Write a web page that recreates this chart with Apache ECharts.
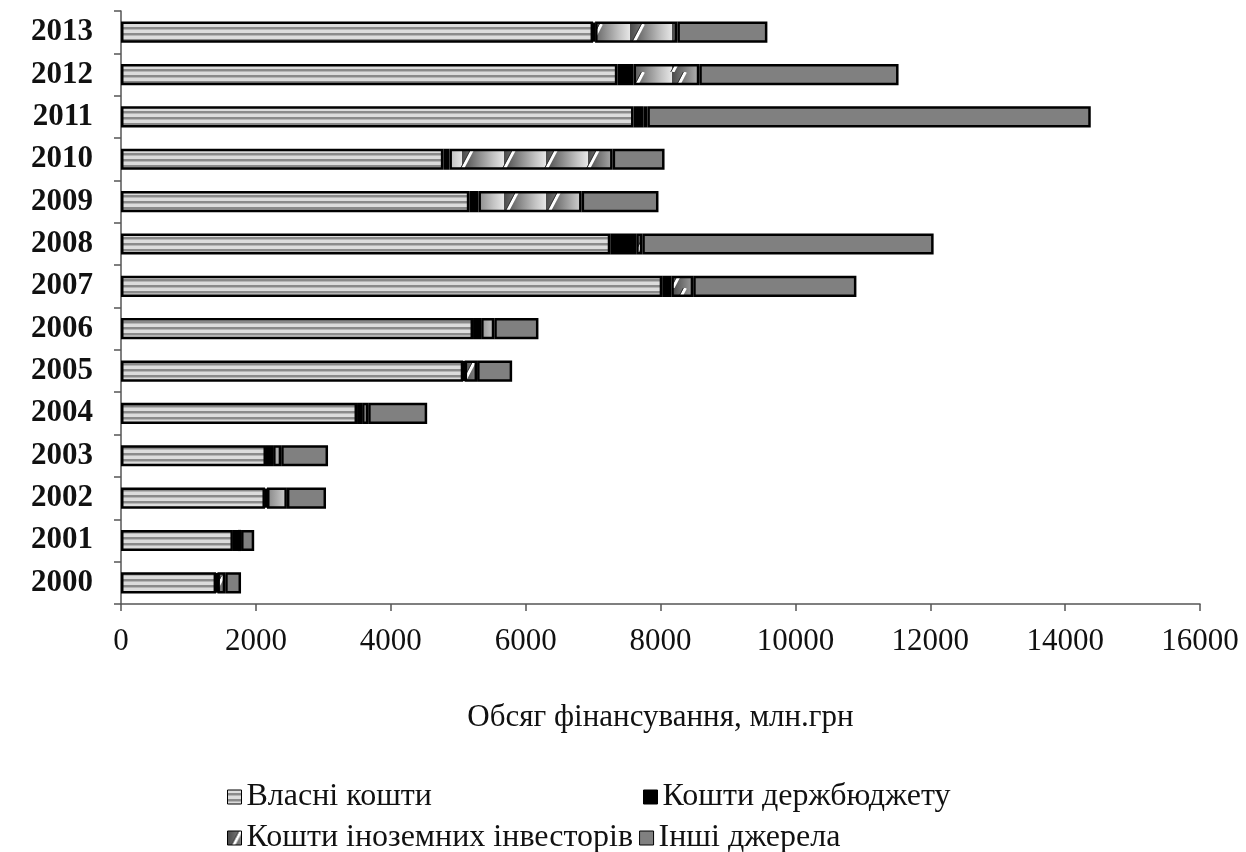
<!DOCTYPE html>
<html>
<head>
<meta charset="utf-8">
<script src="https://cdn.jsdelivr.net/npm/echarts@6/dist/echarts.min.js"></script>
<style>html,body{margin:0;padding:0;background:#fff}#c{width:1246px;height:852px}</style>
</head>
<body>
<div id="c"></div>
<script>
const years = ['2000','2001','2002','2003','2004','2005','2006','2007','2008','2009','2010','2011','2012','2013'];
const ownFunds     = [1410,1660,2135,2150,3500,5075,5220,8025,7255,5165,4780,7600,7360,7000];
const stateBudget  = [20,  75,  30,  105, 75,  20,  120, 135, 385, 135, 90,  145, 240, 30];
const foreignInv   = [115, 45,  295, 120, 90,  185, 195, 325, 90,  1530,2420,60,  975, 1220];
const otherSources = [235, 195, 580, 695, 875, 520, 655, 2420,4320,1140,770, 6575,2955,1335];
const xTicks = {min:0, max:16000, interval:2000};
const seriesNames = ['Власні кошти','Кошти держбюджету','Кошти іноземних інвесторів','Інші джерела'];

function stripePattern(){
  const c=document.createElement('canvas'); c.width=4; c.height=6;
  const g=c.getContext('2d');
  g.fillStyle='#dcdcdc'; g.fillRect(0,0,4,6);
  g.fillStyle='#8a8a8a'; g.fillRect(0,3,4,2);
  g.fillStyle='#b5b5b5'; g.fillRect(0,5,4,1);
  return c;
}
function hatchPattern(){
  const w=42,h=24;
  const c=document.createElement('canvas'); c.width=w; c.height=h;
  const g=c.getContext('2d');
  const gr=g.createLinearGradient(0,0,w,0);
  gr.addColorStop(0,'#4a4a4a'); gr.addColorStop(0.4,'#8c8c8c'); gr.addColorStop(0.75,'#c4c4c4'); gr.addColorStop(1,'#e6e6e6');
  g.fillStyle=gr; g.fillRect(0,0,w,h);
  g.strokeStyle='#ffffff'; g.lineWidth=3;
  for(let k=-1;k<=1;k++){
    g.beginPath(); g.moveTo(k*w+w*0.02,h); g.lineTo(k*w+w*0.32,0); g.stroke();
  }
  g.strokeStyle='#333'; g.lineWidth=1;
  for(let k=-1;k<=1;k++){
    g.beginPath(); g.moveTo(k*w-w*0.03,h); g.lineTo(k*w+w*0.27,0); g.stroke();
  }
  return c;
}
const stripe={image:stripePattern(),repeat:'repeat'};
const hatch={image:hatchPattern(),repeat:'repeat'};
const fills=[stripe,'#000000',hatch,'#808080'];
const dataSets=[ownFunds,stateBudget,foreignInv,otherSources];

const chart=echarts.init(document.getElementById('c'),null,{renderer:'canvas'});
const font='"Liberation Serif","Times New Roman",serif';
const legendText={fontFamily:font,fontSize:32,color:'#111'};
const legendBase={icon:'rect',itemWidth:14,itemHeight:14,itemGap:6,textStyle:legendText,
  itemStyle:{borderColor:'#000',borderWidth:1}};
chart.setOption({
  animation:false,
  backgroundColor:'#fff',
  grid:{left:121,right:46,top:11,bottom:248,containLabel:false},
  xAxis:{type:'value',min:xTicks.min,max:xTicks.max,interval:xTicks.interval,
    axisLine:{show:true,lineStyle:{color:'#555',width:1.5}},
    axisTick:{show:true,length:7,lineStyle:{color:'#555',width:1.5}},
    splitLine:{show:false},
    axisLabel:{fontFamily:font,fontSize:31,color:'#111',margin:22,formatter:v=>String(v)},
    name:'Обсяг фінансування, млн.грн',nameLocation:'middle',nameGap:98,
    nameTextStyle:{fontFamily:font,fontSize:31,color:'#111'}},
  yAxis:{type:'category',data:years,
    axisLine:{show:true,lineStyle:{color:'#555',width:1.5}},
    axisTick:{show:true,length:7,lineStyle:{color:'#555',width:1.5}},
    axisLabel:{fontFamily:font,fontSize:31,fontWeight:'bold',color:'#111',margin:28}},
  legend:[
    Object.assign({},legendBase,{data:[seriesNames[0]],left:222,top:776}),
    Object.assign({},legendBase,{data:[seriesNames[1]],left:638,top:776}),
    Object.assign({},legendBase,{data:[seriesNames[2],seriesNames[3]],left:222,top:817})
  ],
  series:seriesNames.map((n,i)=>({
    name:n,type:'bar',stack:'total',barWidth:'50%',
    data:dataSets[i],
    itemStyle:{color:fills[i],borderColor:'#000',borderWidth:2.5},
    emphasis:{disabled:true}
  }))
});
</script>
</body>
</html>
